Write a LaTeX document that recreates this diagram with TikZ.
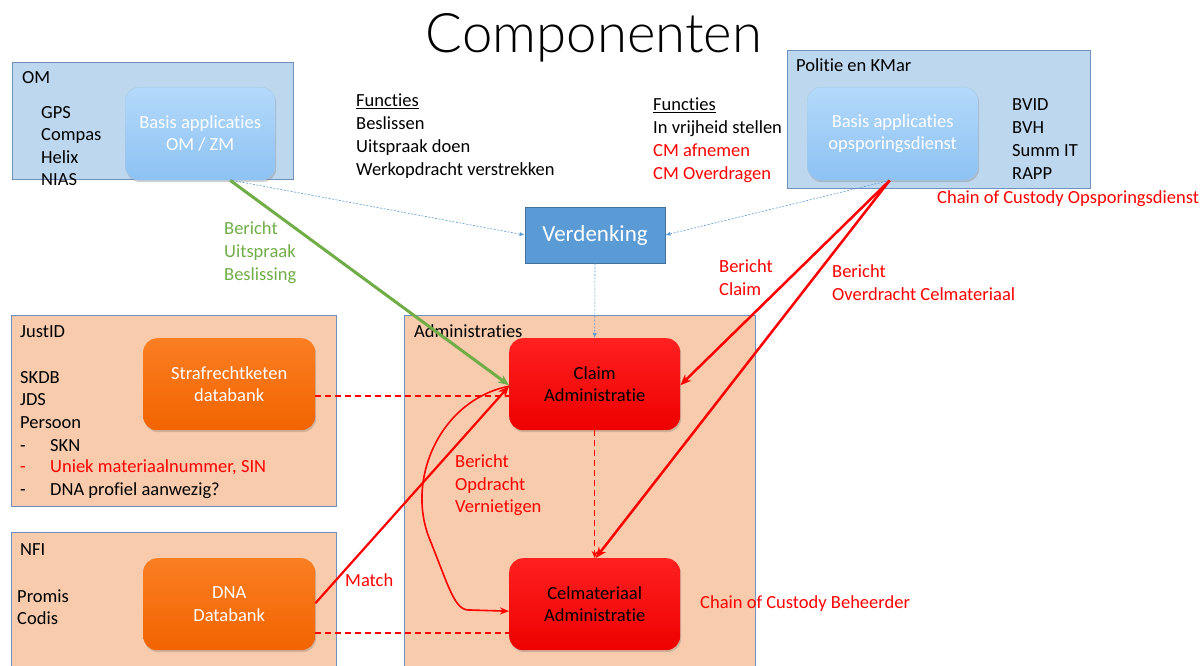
\documentclass[tikz,border=0pt]{standalone}
\usepackage{fontspec}
\setmainfont{Carlito}[Ligatures={NoCommon}]
\IfFontExistsTF{Lato Light}{\newfontfamily\titlefont{Lato Light}[Ligatures={NoCommon}]}{\newfontfamily\titlefont{Carlito}}
\usetikzlibrary{arrows.meta,shadows}
\definecolor{grpblue}{HTML}{BDD7EE}
\definecolor{grpedge}{HTML}{6F8FBF}
\definecolor{grporange}{HTML}{F8CBAD}
\definecolor{apptop}{HTML}{B4D9FB}
\definecolor{appbot}{HTML}{8DC2F3}
\definecolor{ortop}{HTML}{FA7E22}
\definecolor{orbot}{HTML}{F26400}
\definecolor{rdtop}{HTML}{FF2020}
\definecolor{rdbot}{HTML}{EE0000}
\definecolor{verdfill}{HTML}{5B9BD5}
\definecolor{verdedge}{HTML}{41719C}
\definecolor{dotcol}{HTML}{5B9BD5}
\definecolor{grn}{HTML}{70AD47}
\definecolor{redt}{HTML}{FF0000}
\tikzset{
  grp/.style={draw=grpedge, line width=1pt, anchor=north west, inner sep=0pt},
  bluegrp/.style={grp, fill=grpblue},
  orgrp/.style={grp, fill=grporange},
  appbox/.style={rounded corners=14pt, anchor=north west, align=center, inner sep=0pt,
     drop shadow={shadow xshift=1pt, shadow yshift=-2pt, opacity=0.35}},
  bluapp/.style={appbox, top color=apptop, bottom color=appbot, text=white, draw=apptop!80!gray},
  orapp/.style={appbox, top color=ortop, bottom color=orbot, text=white},
  rdapp/.style={appbox, top color=rdtop, bottom color=rdbot, text=black},
  txt/.style={anchor=base west, inner sep=0pt, font=\fontsize{18.5}{22.5}\selectfont},
  rtxt/.style={txt, text=redt},
  gtxt/.style={txt, text=grn},
  dotarrow/.style={draw=dotcol, line width=0.6pt, dash pattern=on 2pt off 1.5pt, -{Latex[length=5pt,width=4pt]}},
  redarrow/.style={draw=redt, line width=2.5pt, -{Stealth[length=11pt,width=9pt]}},
  redthin/.style={draw=redt, line width=1.6pt, -{Stealth[length=9pt,width=7pt]}},
  reddash/.style={draw=redt, line width=1.5pt, dash pattern=on 6pt off 4pt},
}
\newcommand{\dashitem}[1]{\makebox[30pt][l]{-}#1}
\begin{document}
\begin{tikzpicture}[x=1pt,y=-1pt, font=\fontsize{18.5}{22.5}\selectfont]
\useasboundingbox (0,0) rectangle (1204,666);
% title
\node[font=\titlefont\fontsize{54.5}{60}\selectfont, anchor=center, inner sep=0pt] (title) at (594,38) {Componenten};

% group boxes
\node[bluegrp, minimum width=281, minimum height=117] (om) at (12,62) {};
\node[bluegrp, minimum width=303, minimum height=138] (pol) at (787,50) {};
\node[orgrp, minimum width=325, minimum height=191] (just) at (11,315) {};
\node[orgrp, minimum width=325, minimum height=140] (nfi) at (11,532) {};
\node[orgrp, minimum width=351, minimum height=356] (adm) at (404,315) {};
\fill[white] (0,666) rectangle (1204,680);

% group labels (baselines)
\node[txt] (omlbl) at (22,84) {OM};
\node[txt] (l1) at (41,118) {GPS};
\node[txt] (l2) at (41,140) {Compas};
\node[txt] (l3) at (41,163) {Helix};
\node[txt] (l4) at (41,185) {NIAS};

\node[txt] (pollbl) at (796,72) {Politie en KMar};
\node[txt] (p1) at (1012,111) {BVID};
\node[txt] (p2) at (1012,134) {BVH};
\node[txt] (p3) at (1012,157) {Summ IT};
\node[txt] (p4) at (1012,179) {RAPP};

\node[txt] (jlbl) at (20,337) {JustID};
\node[txt] (j1) at (20,383) {SKDB};
\node[txt] (j2) at (20,405) {JDS};
\node[txt] (j3) at (20,428) {Persoon};
\node[txt] (j4) at (20,451) {\dashitem{SKN}};
\node[rtxt] (j5) at (20,472) {\dashitem{Uniek materiaalnummer, SIN}};
\node[txt] (j6) at (20,495) {\dashitem{DNA profiel aanwezig?}};

\node[txt] (nlbl) at (20,555) {NFI};
\node[txt] (n1) at (17,602) {Promis};
\node[txt] (n2) at (17,624) {Codis};

\node[txt] (albl) at (414,337) {Administraties};

% functies
\node[txt] (f1h) at (356,107) {\underline{Functies}};
\node[txt] (f11) at (356,129) {Beslissen};
\node[txt] (f12) at (356,152) {Uitspraak doen};
\node[txt] (f13) at (356,175) {Werkopdracht verstrekken};

\node[txt] (f2h) at (653,111) {\underline{Functies}};
\node[txt] (f21) at (653,134) {In vrijheid stellen};
\node[rtxt] (f22) at (653,156) {CM afnemen};
\node[rtxt] (f23) at (653,179) {CM Overdragen};

% application boxes
\node[bluapp, minimum width=150, minimum height=93] (omapp) at (125,87) {Basis applicaties\\OM / ZM};
\node[bluapp, minimum width=171, minimum height=93] (polapp) at (807,87) {Basis applicaties\\opsporingsdienst};
\node[orapp, minimum width=172, minimum height=92] (skdb) at (143,338) {Strafrechtketen\\databank};
\node[orapp, minimum width=172, minimum height=92] (dna) at (143,558) {DNA\\Databank};
\node[rdapp, minimum width=171, minimum height=92] (claim) at (509,338) {Claim\\Administratie};
\node[rdapp, minimum width=171, minimum height=92] (cel) at (509,558) {Celmateriaal\\Administratie};

\node[draw=verdedge, fill=verdfill, line width=0.8pt, text=white, minimum width=140, minimum height=56,
      inner sep=0pt, font=\fontsize{23}{27}\selectfont] (verd) at (595,235) {Verdenking};

% dashed red
\draw[reddash] ([yshift=-12]skdb.east) -- ([yshift=-12]claim.west);
\draw[reddash] ([yshift=-29]dna.east) -- ([yshift=-29]cel.west);
\draw[reddash, -{Stealth[length=7pt,width=6pt]}] (claim.south) -- (cel.north);

% dotted connectors
\draw[dotarrow] ([xshift=32]omapp.south) -- (verd.west);
\draw[dotarrow] ([xshift=-3]polapp.south) -- (verd.east);
\draw[dotarrow] (verd.south) -- (claim.north);

% green
\draw[draw=grn, line width=3pt, -{Stealth[length=11pt,width=9pt]}] ([xshift=30]omapp.south) -- ([yshift=-1]claim.west);
\node[gtxt] (g1) at (224,234) {Bericht};
\node[gtxt] (g2) at (224,257) {Uitspraak};
\node[gtxt] (g3) at (224,280) {Beslissing};

% red from politie
\draw[redarrow] ([xshift=-3]polapp.south) -- ([yshift=-1]claim.east);
\draw[redarrow] ([xshift=-3]polapp.south) -- ([xshift=1]cel.north);
\node[rtxt] (r1) at (719,272) {Bericht};
\node[rtxt] (r2) at (719,295) {Claim};
\node[rtxt] (r3) at (832,277) {Bericht};
\node[rtxt] (r4) at (832,300) {Overdracht Celmateriaal};
\node[rtxt] (coo) at (937,203) {Chain of Custody Opsporingsdienst};

% match
\draw[redarrow, line width=2.2pt] ([yshift=1]dna.east) -- ([yshift=-2]claim.west);
\node[rtxt] (match) at (345,586) {Match};

% curve
\draw[redthin] ([yshift=-2]claim.west) .. controls (440,400) and (405,480) .. (430,540)
   .. controls (450,590) and (455,611) .. (470,610) -- ([yshift=-7]cel.west);
\node[rtxt] (o1) at (455,467) {Bericht};
\node[rtxt] (o2) at (455,490) {Opdracht};
\node[rtxt] (o3) at (455,512) {Vernietigen};

\node[rtxt] (cob) at (700,608) {Chain of Custody Beheerder};
\end{tikzpicture}
\end{document}
